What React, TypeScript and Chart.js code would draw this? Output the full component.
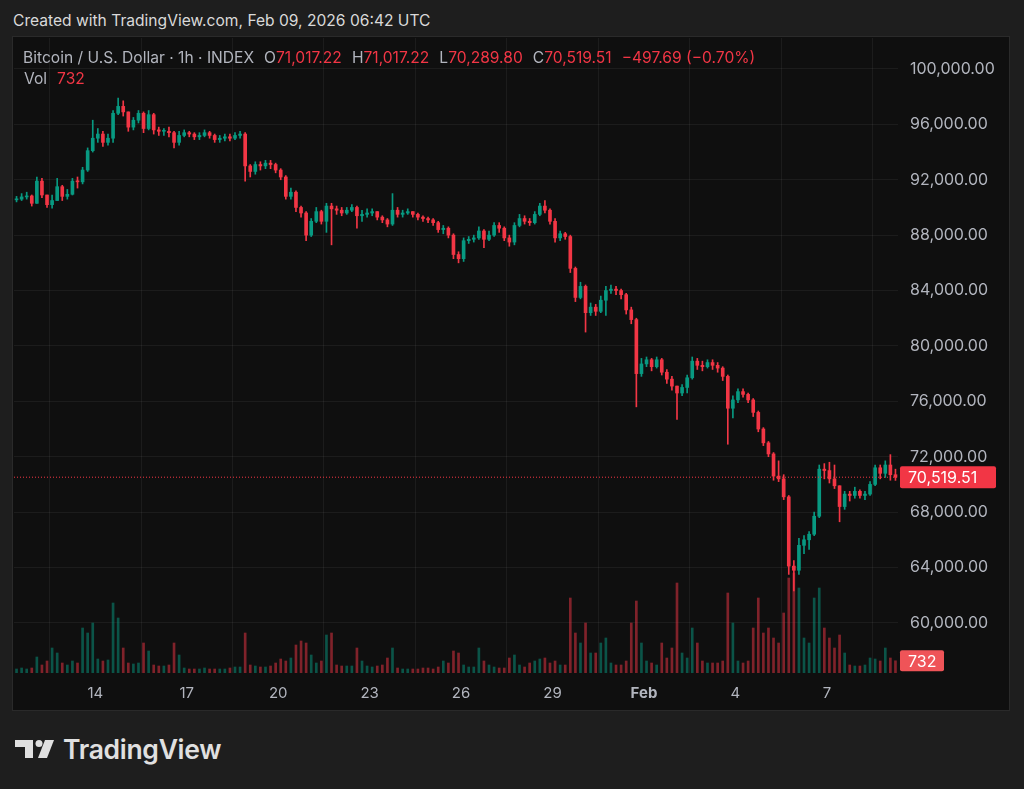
import React, { useEffect, useRef } from "react";
import { Chart, registerables } from "chart.js";

Chart.register(...registerables);

// 4-hour candles, hours counted from Jan 11 08:00 UTC
const BIN_HOURS = 4;
const FIRST_OPEN = 90550;

const closes = [
  90600, 90760, 90830, 90300, 91900, 90900, 90200, 90500, 91500, 90800,
  90950, 91900, 91850, 92700, 94100, 95000, 95300, 94700, 95000, 96800,
  97300, 96900, 95800, 96300, 96800, 95700, 96700, 95600, 95500, 95500,
  95400, 94700, 95200, 95400, 95300, 95100, 95200, 95400, 95200, 94900,
  95000, 95100, 95000, 95200, 95300, 93000, 92600, 93100, 93000, 93200,
  93100, 92700, 92200, 90800, 91100, 90000, 89600, 88000, 89000, 89700,
  89000, 90100, 89900, 89800, 89600, 89800, 90000, 89400, 89500, 89600,
  89700, 89300, 89100, 88800, 89800, 89500, 89600, 89700, 89500, 89300,
  89200, 89100, 88900, 88400, 88500, 88000, 86600, 86300, 87600, 87700,
  87800, 88300, 87700, 88000, 88700, 88500, 87800, 87500, 88700, 89200,
  89000, 88900, 89500, 90100, 89800, 89000, 87800, 88100, 87900, 85600,
  83500, 84300, 82400, 82800, 82500, 83300, 84000, 84100, 84000, 83700,
  82600, 81900, 78000, 78700, 79000, 78500, 79000, 78100, 77600, 77100,
  76600, 77000, 77700, 78900, 78600, 78500, 78800, 78600, 78400, 77800,
  75500, 76100, 76700, 76500, 76100, 75200, 74000, 73000, 72200, 70600,
  70400, 69100, 64100, 63800, 65600, 66000, 66400, 67700, 71100, 71000,
  70400, 69900, 68400, 69300, 69200, 69500, 69200, 69300, 70000, 71200,
  70800, 71400, 70700, 70519.51,
];

const highs = [
  90800, 91000, 91100, 90900, 92200, 92100, 90900, 90900, 92100, 91600,
  91300, 92100, 92200, 92900, 94300, 96300, 95700, 95500, 95300, 97000,
  97900, 97700, 96900, 96500, 97000, 96900, 97000, 96800, 95800, 95700,
  95800, 95500, 95500, 95600, 95500, 95400, 95400, 95600, 95500, 95300,
  95200, 95300, 95300, 95400, 95500, 95400, 93100, 93300, 93300, 93400,
  93400, 93200, 92800, 92300, 91400, 91200, 90100, 89700, 89200, 90000,
  89800, 90300, 90300, 90100, 90000, 90000, 90200, 90100, 89800, 89900,
  89900, 89700, 89400, 89200, 91000, 90000, 89800, 89900, 89700, 89600,
  89400, 89300, 89200, 89000, 88700, 88600, 88100, 86800, 87800, 87900,
  88000, 88600, 88400, 88300, 88900, 88900, 88600, 88000, 88900, 89500,
  89400, 89200, 89700, 90300, 90500, 89900, 89200, 88300, 88200, 88000,
  85700, 84600, 84400, 83100, 83000, 83600, 84300, 84400, 84300, 84100,
  83800, 82800, 82000, 79100, 79200, 79100, 79200, 79100, 78300, 77800,
  77100, 77200, 77900, 79200, 79100, 78900, 79000, 79000, 78800, 78500,
  77900, 76400, 76900, 76900, 76600, 76200, 75300, 74100, 73100, 72300,
  71700, 70700, 69200, 64500, 66100, 66300, 66600, 68000, 71400, 71500,
  71600, 71400, 69900, 69500, 69500, 69800, 69600, 69500, 70200, 71400,
  71400, 71700, 72150, 71100,
];

const lows = [
  90400, 90500, 90600, 90100, 90300, 90700, 90000, 89950, 90500, 90500,
  90600, 90900, 91400, 91700, 92600, 94000, 94700, 94400, 94500, 94700,
  96700, 96600, 95500, 95600, 96100, 95400, 95600, 95300, 95200, 95200,
  95100, 94300, 94500, 95100, 95100, 94900, 94900, 95100, 95000, 94700,
  94700, 94800, 94800, 94900, 95000, 91900, 92200, 92400, 92700, 92800,
  92800, 92500, 92000, 90600, 90600, 89700, 89300, 87600, 87900, 88900,
  88800, 88200, 87300, 89500, 89400, 89500, 89700, 88500, 89000, 89300,
  89400, 89100, 88900, 88600, 88700, 89300, 89300, 89500, 89300, 89100,
  89000, 88900, 88700, 88200, 88100, 87800, 86300, 86000, 86100, 87400,
  87500, 87700, 87100, 87600, 87900, 88200, 87600, 87200, 87300, 88600,
  88800, 88700, 88800, 89400, 89600, 88800, 87500, 87600, 87700, 85300,
  83200, 83400, 81000, 82200, 82200, 82400, 82200, 83800, 83700, 83400,
  82300, 81600, 75600, 77800, 78500, 78200, 78400, 77900, 77300, 76800,
  74700, 76400, 76600, 77600, 78300, 78200, 78400, 78300, 78100, 77500,
  72900, 74800, 75900, 76300, 75900, 74900, 73800, 72800, 72000, 70300,
  70200, 68900, 63500, 62300, 63500, 65000, 65300, 66300, 67600, 70400,
  70100, 69700, 67300, 68200, 68800, 69000, 69000, 68900, 69200, 69900,
  70400, 70500, 70300, 70290,
];

const volumes = [
  240, 300, 240, 300, 960, 480, 720, 1500, 1200, 600,
  480, 720, 600, 2700, 2400, 3000, 840, 720, 780, 4200,
  3300, 1500, 600, 540, 600, 1800, 1320, 480, 420, 420,
  480, 1800, 1080, 300, 240, 240, 240, 300, 240, 240,
  240, 240, 300, 360, 360, 2400, 480, 420, 360, 360,
  420, 600, 840, 720, 900, 1680, 1920, 1800, 1080, 600,
  720, 2280, 2400, 480, 420, 420, 420, 1500, 720, 420,
  360, 420, 480, 900, 1500, 300, 240, 240, 240, 240,
  300, 300, 240, 360, 720, 600, 1320, 1200, 480, 360,
  360, 1500, 720, 480, 360, 300, 300, 900, 1080, 480,
  360, 600, 720, 840, 900, 600, 720, 480, 480, 4500,
  2400, 1800, 3000, 1200, 1200, 1800, 2100, 600, 480, 480,
  720, 3000, 4320, 1800, 720, 600, 480, 1800, 900, 1500,
  5400, 1200, 900, 2700, 1800, 720, 600, 600, 600, 720,
  4800, 3000, 720, 600, 720, 2700, 4500, 2400, 2700, 2100,
  1800, 3600, 5700, 6000, 5100, 2100, 1800, 4500, 5100, 2700,
  2100, 1500, 2280, 1200, 480, 420, 420, 480, 900, 840,
  720, 1500, 900, 732,
];

const priceTicks = [60000, 64000, 68000, 72000, 76000, 80000, 84000, 88000, 92000, 96000, 100000];
const dayTickHours = [64, 136, 208, 280, 352, 424, 496, 568, 640];
const dayTickLabels = ["14", "17", "20", "23", "26", "29", "Feb", "4", "7"];

const UP = "#089981";
const DOWN = "#f23645";
const UP_VOL = "rgba(8,153,129,0.5)";
const DOWN_VOL = "rgba(242,54,69,0.5)";
const FONT = "Inter, 'Noto Sans', sans-serif";

const fmt2 = (v: number) =>
  v.toLocaleString("en-US", { minimumFractionDigits: 2, maximumFractionDigits: 2 });

const zeroPad = (s: any) => {
  s.paddingTop = 0;
  s.paddingBottom = 0;
  s.paddingLeft = 0;
  s.paddingRight = 0;
};

export default function App() {
  const canvasRef = useRef<HTMLCanvasElement | null>(null);

  useEffect(() => {
    if (!canvasRef.current) return;
    const opens = closes.map((_, i) => (i === 0 ? FIRST_OPEN : closes[i - 1]));
    const xs = closes.map((_, i) => i * BIN_HOURS + BIN_HOURS / 2);
    const isUp = closes.map((c, i) => c >= opens[i]);
    const lastClose = closes[closes.length - 1];
    const lastVol = volumes[volumes.length - 1];
    const xMax = closes.length * BIN_HOURS;

    const labelPlugin = {
      id: "lastLabels",
      afterDraw(chart: any) {
        const { ctx, chartArea } = chart;
        const y = chart.scales.y.getPixelForValue(lastClose);
        const yv = chart.scales.yv.getPixelForValue(lastVol);
        const left = chartArea.right + 2;
        ctx.save();
        ctx.font = `16px ${FONT}`;
        ctx.textBaseline = "middle";
        ctx.textAlign = "left";
        ctx.fillStyle = DOWN;
        ctx.beginPath();
        (ctx as any).roundRect(left, y - 11, 96, 22, 2);
        ctx.fill();
        ctx.fillStyle = "#ffffff";
        ctx.fillText(fmt2(lastClose), left + 8, y + 1);
        ctx.fillStyle = "#ef5458";
        ctx.beginPath();
        (ctx as any).roundRect(left, yv - 10.5, 44, 21, 2);
        ctx.fill();
        ctx.fillStyle = "#ffffff";
        ctx.fillText(String(lastVol), left + 8, yv + 1);
        ctx.restore();
      },
    };

    const chart = new Chart(canvasRef.current, {
      type: "bar",
      data: {
        datasets: [
          {
            type: "line",
            data: [
              { x: 0, y: lastClose },
              { x: xMax, y: lastClose },
            ],
            borderColor: DOWN,
            borderWidth: 1,
            borderDash: [1, 2],
            pointRadius: 0,
            yAxisID: "y",
            order: 0,
          } as any,
          {
            data: closes.map((c, i) => ({ x: xs[i], y: [opens[i], c] })),
            backgroundColor: isUp.map((u) => (u ? UP : DOWN)),
            barThickness: 3,
            minBarLength: 1,
            grouped: false,
            yAxisID: "y",
            order: 1,
          } as any,
          {
            data: closes.map((_, i) => ({
              x: xs[i],
              y: [Math.min(lows[i], opens[i], closes[i]), Math.max(highs[i], opens[i], closes[i])],
            })),
            backgroundColor: isUp.map((u) => (u ? UP : DOWN)),
            barThickness: 1,
            grouped: false,
            yAxisID: "y",
            order: 2,
          } as any,
          {
            data: volumes.map((v, i) => ({ x: xs[i], y: v })),
            backgroundColor: isUp.map((u) => (u ? UP_VOL : DOWN_VOL)),
            barThickness: 2,
            grouped: false,
            yAxisID: "yv",
            order: 3,
          } as any,
        ],
      },
      options: {
        animation: false,
        responsive: false,
        maintainAspectRatio: false,
        events: [],
        layout: { padding: { left: 1, top: 1, right: 0, bottom: 0 } },
        plugins: { legend: { display: false }, tooltip: { enabled: false } },
        scales: {
          x: {
            type: "linear",
            min: 0,
            max: xMax,
            offset: false,
            border: { display: false },
            grid: { color: "rgba(255,255,255,0.055)", drawTicks: false },
            afterBuildTicks: (s: any) => {
              s.ticks = dayTickHours.map((v) => ({ value: v }));
            },
            afterFit: (s: any) => {
              s.height = 36;
              zeroPad(s);
            },
            ticks: {
              autoSkip: false,
              maxRotation: 0,
              padding: 11,
              color: "#b2b5be",
              font: (c: any) => ({
                family: FONT,
                size: 15,
                weight: c.tick && dayTickLabels[dayTickHours.indexOf(c.tick.value)] === "Feb" ? "bold" : "normal",
              }),
              callback: (v: any) => {
                const k = dayTickHours.indexOf(Number(v));
                return k >= 0 ? dayTickLabels[k] : "";
              },
            },
          } as any,
          y: {
            position: "right",
            min: 56380,
            max: 102237,
            border: { display: false },
            grid: { color: "rgba(255,255,255,0.055)", drawTicks: false },
            afterBuildTicks: (s: any) => {
              s.ticks = priceTicks.map((v) => ({ value: v }));
            },
            afterFit: (s: any) => {
              s.width = 111;
              zeroPad(s);
            },
            ticks: {
              padding: 12,
              color: "#b2b5be",
              font: { family: FONT, size: 16 },
              callback: (v: any) => fmt2(Number(v)),
            },
          } as any,
          yv: {
            display: false,
            min: 0,
            max: 38100,
          },
        },
      },
      plugins: [labelPlugin],
    });
    return () => chart.destroy();
  }, []);

  const lbl = { color: "#b2b5be" };
  const red = { color: DOWN };
  return (
    <div
      style={{
        position: "fixed",
        left: 0,
        top: 0,
        width: 1024,
        height: 789,
        background: "#1e1e1e",
        fontFamily: FONT,
        overflow: "hidden",
      }}
    >
      <div
        style={{
          position: "absolute",
          left: 13,
          top: 10,
          fontSize: 15.6,
          lineHeight: "22px",
          color: "#d9d9d9",
          whiteSpace: "nowrap",
        }}
      >
        Created with TradingView.com, Feb 09, 2026 06:42 UTC
      </div>
      <div
        style={{
          position: "absolute",
          left: 12,
          top: 36,
          width: 998,
          height: 675,
          boxSizing: "border-box",
          border: "1px solid #2a2a2a",
          background: "#0f0f0f",
        }}
      />
      <canvas
        ref={canvasRef}
        width={996}
        height={672}
        style={{ position: "absolute", left: 13, top: 37, width: 996, height: 672 }}
      />
      <div
        style={{
          position: "absolute",
          left: 23,
          top: 48,
          fontSize: 15.6,
          lineHeight: "20px",
          whiteSpace: "nowrap",
        }}
      >
        <span style={{ ...lbl, marginRight: 10 }}>Bitcoin / U.S. Dollar · 1h · INDEX</span>
        <span style={{ marginRight: 10 }}>
          <span style={lbl}>O</span>
          <span style={red}>71,017.22</span>
        </span>
        <span style={{ marginRight: 10 }}>
          <span style={lbl}>H</span>
          <span style={red}>71,017.22</span>
        </span>
        <span style={{ marginRight: 10 }}>
          <span style={lbl}>L</span>
          <span style={red}>70,289.80</span>
        </span>
        <span style={{ marginRight: 10 }}>
          <span style={lbl}>C</span>
          <span style={red}>70,519.51</span>
        </span>
        <span style={red}>−497.69 (−0.70%)</span>
      </div>
      <div
        style={{
          position: "absolute",
          left: 24,
          top: 69,
          fontSize: 15.6,
          lineHeight: "20px",
          whiteSpace: "nowrap",
        }}
      >
        <span style={{ ...lbl, marginRight: 10 }}>Vol</span>
        <span style={red}>732</span>
      </div>
      <svg
        style={{ position: "absolute", left: 0, top: 730 }}
        width={60}
        height={40}
        viewBox="0 730 60 40"
      >
        <rect x={15} y={740} width={18} height={7} fill="#e0e0e0" />
        <rect x={25} y={740} width={8} height={18} fill="#e0e0e0" />
        <circle cx={39} cy={743.5} r={3.5} fill="#e0e0e0" />
        <polygon points="45,740 54,740 47,758 38,758" fill="#e0e0e0" />
      </svg>
      <div
        style={{
          position: "absolute",
          left: 63,
          top: 733,
          fontSize: 26.5,
          fontWeight: 600,
          lineHeight: "32px",
          color: "#e0e0e0",
          letterSpacing: -0.3,
          whiteSpace: "nowrap",
        }}
      >
        TradingView
      </div>
    </div>
  );
}
